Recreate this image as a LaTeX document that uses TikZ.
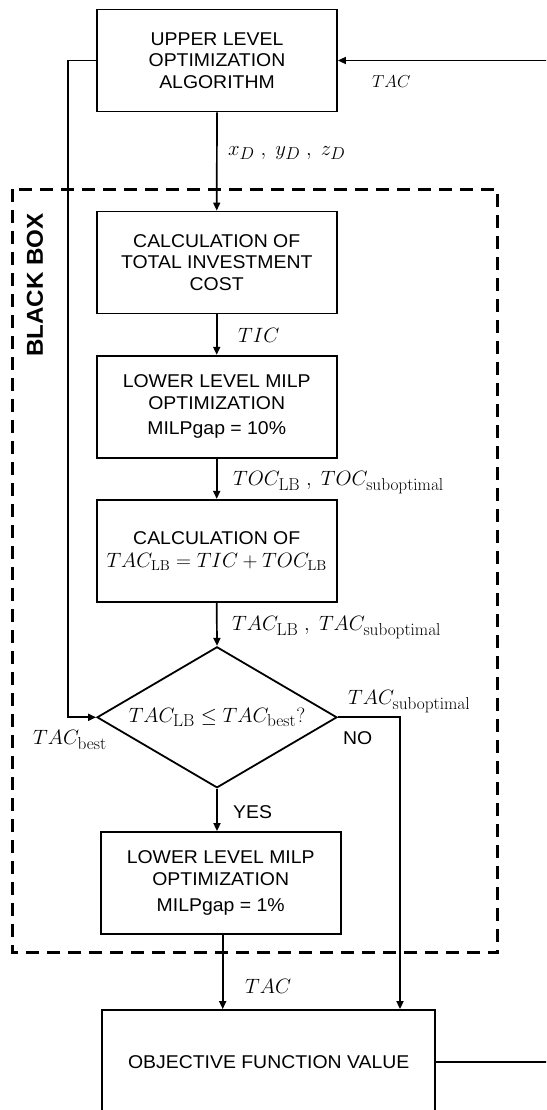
\documentclass[tikz,border=0pt]{standalone}
\usepackage[no-math]{fontspec}
\setmainfont{Liberation Sans}[FakeStretch=1.05]
\DeclareMathSizes{22}{22}{17}{12}
\DeclareMathSizes{21}{21}{16.5}{12}
\DeclareMathSizes{20}{20}{15.5}{11}
\DeclareMathSizes{19}{19}{14.5}{10}
\usetikzlibrary{arrows.meta,shapes.geometric,calc}
\begin{document}
\begin{tikzpicture}[x=1pt,y=-1pt,
  box/.style={draw,line width=1.8pt,minimum width=240pt,minimum height=102pt,inner sep=0pt,align=center,font=\fontsize{18.5}{21.7}\selectfont},
  conn/.style={line width=1.7pt},
  arr/.style={conn,-{Triangle[length=8pt,width=7pt]}},
  lbl/.style={anchor=west,inner sep=0pt,font=\fontsize{21}{25}\selectfont},
  txt/.style={anchor=west,inner sep=0pt,font=\fontsize{18.5}{21.7}\selectfont},
  bbox/.style={line width=3pt,dash pattern=on 13pt off 8pt}
]
\useasboundingbox (0,0) rectangle (546,1110);
\clip (0,0) rectangle (546,1110);

% dashed black box
\draw[bbox] (12.3,189.3) rectangle (497.7,952.7);
\node[rotate=90,font=\fontsize{23}{26}\selectfont\bfseries,inner sep=0pt] (bb) at (35,285) {BLACK BOX};

% nodes
\node[box] (upper) at (217,60.5) {UPPER LEVEL\\OPTIMIZATION\\ALGORITHM};
\node[box] (calc1) at (216.7,262.5) {CALCULATION OF\\TOTAL INVESTMENT\\COST};
\node[box] (milp1) at (216.7,406.7) {LOWER LEVEL MILP\\OPTIMIZATION\\[4pt]MILPgap = 10\%};
\node[box] (calc2) at (216.7,550.8) {CALCULATION OF\\[1pt]{\fontsize{20}{24}\selectfont$TAC_{\mathrm{LB}} = TIC + TOC_{\mathrm{LB}}$}};
\node[draw,diamond,aspect=1.7,minimum width=240pt,minimum height=141pt,inner sep=0pt,line width=1.8pt,font=\fontsize{22}{26}\selectfont] (dia) at (217,717.3) {$TAC_{\mathrm{LB}} \leq TAC_{\mathrm{best}}?$};
\node[box] (milp2) at (220.7,883) {LOWER LEVEL MILP\\OPTIMIZATION\\[4pt]MILPgap = 1\%};
\node[box,minimum width=332.7pt,minimum height=103.4pt] (obj) at (268.7,1061.7) {OBJECTIVE FUNCTION VALUE};

% connectors
\draw[arr] (upper.south) -- (calc1.north);
\node[lbl] (lxyz) at (228,153) {$x_D\;,\; y_D\;,\; z_D$};
\draw[arr] (calc1.south) -- (milp1.north);
\node[lbl] (ltic) at (238,335) {$TIC$};
\draw[arr] (milp1.south) -- (calc2.north);
\node[lbl] (ltoc) at (233,483) {$TOC_{\mathrm{LB}}\;,\; TOC_{\mathrm{suboptimal}}$};
\draw[arr] (calc2.south) -- (dia.north);
\node[lbl] (ltac) at (232,628) {$TAC_{\mathrm{LB}}\;,\; TAC_{\mathrm{suboptimal}}$};
\draw[arr] (dia.south) -- (dia.south |- milp2.north);
\node[txt] (lyes) at (233,811.7) {YES};
\draw[arr] ([xshift=2pt]milp2.south) -- ([xshift=2pt]milp2.south |- obj.north);
\node[lbl] (ltac2) at (245,986.7) {$TAC$};
\coordinate (rc) at (400,717.3);
\draw[arr] (dia.east) -- (rc) -- (rc |- obj.north);
\node[lbl] (lsub) at (348,701.7) {$TAC_{\mathrm{suboptimal}}$};
\node[txt] (lno) at (343,738) {NO};
\coordinate (lc) at (67.7,60.5);
\draw[arr] (upper.west) -- (lc) |- (dia.west);
\node[lbl] (lbest) at (33,740) {$TAC_{\mathrm{best}}$};
\coordinate (fc) at (570,1061.7);
\draw[arr] (obj.east) -- (fc) |- (upper.east);
\node[lbl,font=\fontsize{19}{23}\selectfont] (ltop) at (372,82) {$TAC$};
\end{tikzpicture}
\end{document}
